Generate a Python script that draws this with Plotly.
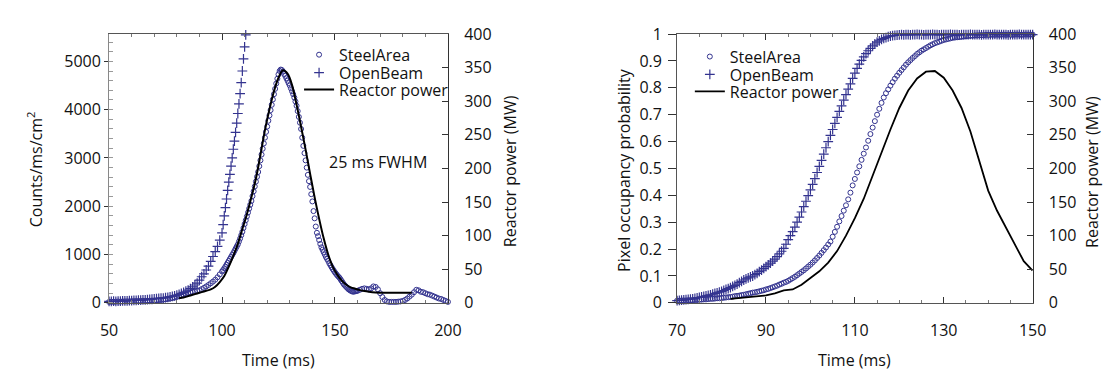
import numpy as np
import plotly.graph_objects as go

# ---------------- Left panel data ----------------
t_steel_left = np.concatenate([np.arange(50, 100, 1.0), np.arange(100, 160.5, 0.5), np.arange(161, 201, 1.0)])
steel_left = [
    20, 25, 20, 25, 28, 25, 30, 30, 32, 30,
    35, 35, 38, 36, 40, 42, 40, 45, 46, 48,
    50, 55, 58, 62, 68, 75, 82, 90, 100, 112,
    125, 140, 155, 170, 185, 200, 215, 228, 240, 250,
    260, 285, 310, 340, 370, 405, 440, 480, 530, 590,
    # 100 .. 160 step 0.5
    650, 680, 715, 750, 790, 830, 870, 910, 950, 990,
    1030, 1075, 1120, 1165, 1210, 1270, 1330, 1400, 1470, 1550,
    1630, 1710, 1790, 1870, 1950, 2030, 2110, 2210, 2310, 2410,
    2510, 2610, 2710, 2830, 2950, 3070, 3190, 3300, 3420, 3540,
    3650, 3770, 3880, 3990, 4100, 4210, 4320, 4430, 4540, 4640,
    4730, 4800, 4830, 4820, 4790, 4740, 4700, 4650, 4600, 4550,
    4500, 4440, 4380, 4320, 4250, 4170, 4080, 3970, 3850, 3730,
    3600, 3420, 3250, 3100, 2950, 2800, 2650, 2520, 2400, 2250,
    2100, 1900, 1750, 1580, 1450, 1380, 1300, 1220, 1150, 1100,
    1050, 1000, 950, 910, 870, 820, 780, 740, 700, 665,
    630, 600, 570, 545, 520, 485, 450, 415, 380, 355,
    330, 305, 280, 265, 250, 240, 230, 235, 240, 245,
    250,
    # 161 .. 200
    270, 290, 300, 290, 280, 300, 340, 330, 280, 200,
    120, 60, 30, 20, 20, 20, 20, 25, 30, 40,
    60, 90, 130, 170, 220, 270, 260, 230, 220, 200,
    180, 170, 150, 130, 110, 90, 80, 60, 40, 20,
]

t_open_left = np.concatenate([np.arange(50, 100, 1.0), np.arange(100, 111, 0.5)])
open_left = [
    30, 30, 35, 30, 35, 35, 40, 40, 40, 45,
    45, 50, 50, 55, 55, 60, 60, 65, 70, 75,
    80, 85, 90, 95, 100, 110, 115, 125, 135, 145,
    160, 175, 195, 215, 240, 265, 295, 330, 370, 410,
    470, 540, 600, 680, 760, 860, 960, 1060, 1170, 1300,
    1450, 1620, 1800, 1970, 2150, 2330, 2500, 2660, 2830, 3000,
    3180, 3350, 3530, 3720, 3920, 4120, 4330, 4560, 4800, 5050,
    5300, 5550,
]

t_power_left = [81, 83, 85, 87, 89, 91, 93, 95, 97, 99, 101, 103, 105, 107, 109, 111, 113, 115,
                117, 119, 121, 123, 125, 127, 129, 131, 133, 135, 137, 139, 141, 143, 145, 147,
                149, 151, 153, 155, 157, 159, 161, 163, 165, 168, 172, 178, 184]
power_left = [7, 8, 10, 12, 14, 16, 18, 20, 24, 31, 40, 54, 70, 88, 110, 132, 157, 185,
              220, 257, 288, 315, 335, 346, 341, 324, 295, 262, 228, 192, 157, 125, 96, 72,
              54, 42, 33, 27, 23, 21, 19, 17.5, 16.5, 15.5, 15, 15, 15]

# ---------------- Right panel data ----------------
t_right = np.arange(70, 150.5, 0.5)
open_right = [
    0.008, 0.009, 0.010, 0.011, 0.012, 0.013, 0.014, 0.015, 0.017, 0.018,
    0.020, 0.022, 0.024, 0.026, 0.028, 0.030, 0.032, 0.035, 0.037, 0.040,
    0.043, 0.046, 0.050, 0.053, 0.057, 0.061, 0.065, 0.070, 0.075, 0.080,
    0.085, 0.089, 0.093, 0.097, 0.100, 0.105, 0.110, 0.116, 0.122, 0.128,
    0.135, 0.141, 0.148, 0.155, 0.163, 0.172, 0.182, 0.192, 0.203, 0.218,
    0.235, 0.250, 0.265, 0.282, 0.300, 0.319, 0.338, 0.358, 0.378, 0.399,
    0.420, 0.441, 0.462, 0.485, 0.508, 0.530, 0.553, 0.577, 0.600, 0.623,
    0.645, 0.668, 0.690, 0.712, 0.733, 0.754, 0.775, 0.795, 0.815, 0.835,
    0.855, 0.872, 0.888, 0.902, 0.915, 0.927, 0.938, 0.947, 0.956, 0.963,
    0.970, 0.975, 0.980, 0.984, 0.987, 0.990, 0.992, 0.994, 0.995, 0.996,
    0.997, 0.998, 0.997, 0.998, 0.998, 0.997, 0.998, 0.998, 0.999, 0.998,
    0.998, 0.997, 0.998, 0.998, 0.998, 0.999, 0.998, 0.998, 0.997, 0.998,
    0.998, 0.998, 0.998, 0.999, 0.998, 0.998, 0.998, 0.997, 0.998, 0.998,
    0.998, 0.998, 0.999, 0.998, 0.998, 0.998, 0.998, 0.997, 0.998, 0.998,
    0.998, 0.998, 0.998, 0.999, 0.998, 0.998, 0.998, 0.998, 0.998, 0.997,
    0.998, 0.998, 0.998, 0.998, 0.999, 0.998, 0.998, 0.998, 0.998, 0.998,
    0.998,
]
steel_right = [
    0.008, 0.008, 0.009, 0.009, 0.009, 0.010, 0.010, 0.010, 0.011, 0.011,
    0.012, 0.012, 0.013, 0.013, 0.014, 0.015, 0.015, 0.016, 0.017, 0.017,
    0.018, 0.019, 0.020, 0.021, 0.022, 0.023, 0.025, 0.026, 0.027, 0.029,
    0.030, 0.032, 0.034, 0.036, 0.038, 0.039, 0.041, 0.043, 0.045, 0.047,
    0.050, 0.052, 0.055, 0.058, 0.061, 0.064, 0.068, 0.071, 0.075, 0.078,
    0.082, 0.087, 0.092, 0.097, 0.103, 0.109, 0.115, 0.121, 0.128, 0.135,
    0.142, 0.150, 0.158, 0.167, 0.176, 0.186, 0.196, 0.206, 0.217, 0.228,
    0.246, 0.264, 0.283, 0.303, 0.323, 0.343, 0.363, 0.385, 0.410, 0.437,
    0.461, 0.485, 0.508, 0.532, 0.555, 0.578, 0.603, 0.628, 0.652, 0.676,
    0.700, 0.722, 0.744, 0.764, 0.780, 0.794, 0.808, 0.821, 0.834, 0.845,
    0.856, 0.866, 0.876, 0.886, 0.895, 0.903, 0.911, 0.918, 0.926, 0.932,
    0.938, 0.943, 0.948, 0.953, 0.958, 0.962, 0.966, 0.969, 0.972, 0.975,
    0.978, 0.980, 0.982, 0.984, 0.986, 0.987, 0.988, 0.989, 0.990, 0.991,
    0.992, 0.993, 0.994, 0.994, 0.995, 0.995, 0.996, 0.996, 0.996, 0.997,
    0.997, 0.997, 0.998, 0.997, 0.998, 0.997, 0.998, 0.998, 0.997, 0.998,
    0.998, 0.997, 0.998, 0.998, 0.998, 0.997, 0.998, 0.998, 0.998, 0.998,
    0.998,
]
t_power_right = [82, 84, 86, 88, 90, 92, 94, 96, 98, 100, 102, 104, 106, 108, 110, 112, 114, 116,
                 118, 120, 122, 124, 126, 128, 130, 132, 134, 136, 138, 140, 142, 144, 146, 148, 150]
power_right = [6, 7, 8, 9, 11, 14, 18.5, 20, 27, 37, 47, 60, 77, 100, 126, 155, 190, 222,
               258, 290, 316, 334, 344, 345, 335, 316, 290, 255, 210, 167, 137, 112, 86, 62, 48]

legend_names = ["SteelArea", "OpenBeam", "Reactor power"]

# ---------------- Figure ----------------
W, H = 1116, 376
MARK = "#33338f"
FONT = "Open Sans"
FS = 16
TXT = "#111111"


def px_x(p):
    return p / W


def px_y(p):
    return 1 - p / H


fig = go.Figure()

circle = dict(symbol="circle-open", size=5, color=MARK, line=dict(width=1, color=MARK))
cross = dict(symbol="cross-thin-open", size=7, color=MARK, line=dict(width=1.2, color=MARK))

fig.add_trace(go.Scatter(x=t_steel_left, y=steel_left, mode="markers", name=legend_names[0],
                         marker=circle, xaxis="x", yaxis="y", legend="legend", cliponaxis=False))
fig.add_trace(go.Scatter(x=t_open_left, y=open_left, mode="markers", name=legend_names[1],
                         marker=cross, xaxis="x", yaxis="y", legend="legend2", cliponaxis=False))
fig.add_trace(go.Scatter(x=t_power_left, y=power_left, mode="lines", name=legend_names[2],
                         line=dict(color="black", width=2, shape="spline"),
                         xaxis="x", yaxis="y2", legend="legend3"))

fig.add_trace(go.Scatter(x=t_right, y=steel_right, mode="markers", name=legend_names[0],
                         marker=circle, xaxis="x2", yaxis="y3", legend="legend4", cliponaxis=False))
fig.add_trace(go.Scatter(x=t_right, y=open_right, mode="markers", name=legend_names[1],
                         marker=cross, xaxis="x2", yaxis="y3", legend="legend5", cliponaxis=False))
fig.add_trace(go.Scatter(x=t_power_right, y=power_right, mode="lines", name=legend_names[2],
                         line=dict(color="black", width=1.8),
                         xaxis="x2", yaxis="y4", legend="legend6"))

ydom = [px_y(301.5), px_y(16)]
xdom_l = [px_x(94), px_x(440)]
xdom_r = [px_x(674), px_x(1037)]

tickfont = dict(family=FONT, size=FS, color=TXT)
common_x = dict(showgrid=False, zeroline=False, showline=True, linecolor="#555", linewidth=1,
                mirror="ticks", ticks="inside", ticklen=6, tickcolor="#333", tickfont=tickfont,
                ticklabelstandoff=13)
common_y = dict(showgrid=False, zeroline=False, showline=True, linewidth=1, tickfont=tickfont)


def leg(x, y):
    return dict(x=px_x(x), y=px_y(y), xanchor="left", yanchor="middle", bgcolor="rgba(0,0,0,0)",
                font=dict(family=FONT, size=FS, color=TXT), itemwidth=30, borderwidth=0)


fig.update_layout(
    width=W, height=H, margin=dict(l=0, r=0, t=0, b=0),
    paper_bgcolor="white", plot_bgcolor="white",
    font=dict(family=FONT, size=FS, color=TXT),
    xaxis=dict(domain=xdom_l, anchor="y", range=[50, 200], tickvals=[50, 100, 150, 200],
               minor=dict(dtick=10, tick0=50, ticks="inside", ticklen=3, tickcolor="#777"), **common_x),
    yaxis=dict(domain=ydom, anchor="x", range=[0, 5565], dtick=1000, ticks="outside", ticklen=4,
               tickcolor="#333", linecolor="#888",
               minor=dict(dtick=200, ticks="inside", ticklen=4, tickcolor="#999"), **common_y),
    yaxis2=dict(overlaying="y", anchor="x", side="right", range=[0, 400], dtick=50, ticks="inside",
                ticklen=6, tickcolor="#333", linecolor="#333", ticklabelstandoff=12, **common_y),
    xaxis2=dict(domain=xdom_r, anchor="y3", range=[70, 150], tickvals=[70, 90, 110, 130, 150],
                minor=dict(dtick=5, tick0=70, ticks="inside", ticklen=3, tickcolor="#777"), **common_x),
    yaxis3=dict(domain=ydom, anchor="x2", range=[0, 1], dtick=0.1, ticks="outside", ticklen=8,
                tickcolor="#333", linecolor="#555", ticklabelstandoff=3, **common_y),
    yaxis4=dict(overlaying="y3", anchor="x2", side="right", range=[0, 400], dtick=50, ticks="inside",
                ticklen=6, tickcolor="#333", linecolor="#333", ticklabelstandoff=12, **common_y),
    legend=leg(288, 38), legend2=leg(288, 57), legend3=leg(288, 75),
    legend4=leg(687, 40), legend5=leg(687, 59), legend6=leg(687, 77),
    showlegend=True,
)

ann = []


def title(text, x, y, angle=0):
    ann.append(dict(text=text, x=px_x(x), y=px_y(y), xref="paper", yref="paper",
                    showarrow=False, textangle=angle, xanchor="center", yanchor="middle",
                    font=dict(family=FONT, size=FS, color=TXT)))


title("Time (ms)", 267, 362)
title("Time (ms)", 855, 362)
title("Counts/ms/cm<sup>2</sup>", 18, 160, -90)
title("Reactor power (MW)", 503, 162, -90)
title("Pixel occupancy probability", 619, 160, -90)
title("Reactor power (MW)", 1097, 162, -90)
title("25 ms FWHM", 369, 152)
fig.update_layout(annotations=ann)

fig.write_html("out.html")
